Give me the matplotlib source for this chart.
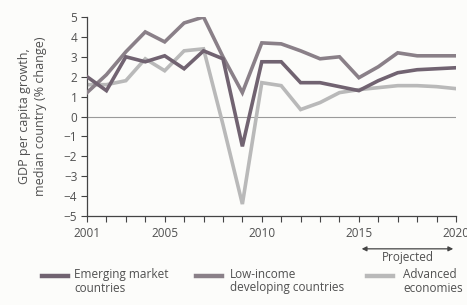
import matplotlib
matplotlib.use("Agg")
import matplotlib.pyplot as plt
import numpy as np

years = list(range(2001, 2021))
emerging = [2.0, 1.3, 3.0, 2.75, 3.05, 2.4, 3.3, 2.9, -1.5, 2.75, 2.75, 1.7, 1.7, 1.5, 1.3, 1.8, 2.2, 2.35, 2.4, 2.45]
low_income = [1.2, 2.1, 3.25, 4.25, 3.75, 4.7, 5.0, 3.0, 1.2, 3.7, 3.65, 3.3, 2.9, 3.0, 1.95, 2.5, 3.2, 3.05, 3.05, 3.05]
advanced = [1.6, 1.6, 1.8, 2.9, 2.3, 3.3, 3.4, -0.4, -4.4, 1.7, 1.55, 0.35, 0.7, 1.2, 1.35, 1.45, 1.55, 1.55, 1.5, 1.4]
labels = ["Emerging market\ncountries", "Low-income\ndeveloping countries", "Advanced\neconomies"]
xticks_major = [2001, 2005, 2010, 2015, 2020]
yticks = list(range(-5, 6))

plt.rcParams['font.family'] = ['Open Sans', 'DejaVu Sans']
txt = '#505050'
c_em = '#716371'
c_li = '#8a8088'
c_ad = '#b9b9b9'
fs = 8.5

fig = plt.figure(figsize=(4.67, 3.05), dpi=100)
fig.patch.set_facecolor('#fcfcfa')
ax = fig.add_axes([87/467, 1-216/305, (456-87)/467, (216-17)/305])
ax.set_facecolor('#fcfcfa')

ax.axhline(0, color='#9a9a9a', lw=0.8, zorder=1)
l3, = ax.plot(years, advanced, color=c_ad, lw=2.6, zorder=2, solid_joinstyle='miter')
l1, = ax.plot(years, emerging, color=c_em, lw=2.6, zorder=4, solid_joinstyle='miter')
l2, = ax.plot(years, low_income, color=c_li, lw=2.6, zorder=3, solid_joinstyle='miter')

ax.set_xlim(2001, 2020)
ax.set_ylim(-5, 5)
ax.set_yticks(yticks)
ax.set_yticklabels([("\u2212%d" % -v) if v < 0 else str(v) for v in yticks])
ax.set_xticks(xticks_major)
ax.set_xticks(years, minor=True)
for s in ['top', 'right']:
    ax.spines[s].set_visible(False)
for s in ['left', 'bottom']:
    ax.spines[s].set_color('#444444')
    ax.spines[s].set_linewidth(0.9)
ax.tick_params(axis='y', direction='out', length=4, width=0.8, color='#444444', labelcolor=txt, labelsize=fs, pad=3)
ax.tick_params(axis='x', which='both', direction='out', length=4, width=0.8, color='#444444', labelcolor=txt, labelsize=fs, pad=4)
ax.tick_params(axis='x', which='minor', length=4)

ax.set_ylabel("GDP per capita growth,\nmedian country (% change)", color=txt, fontsize=9, labelpad=12, linespacing=1.25)

# Projected arrow
ax.annotate('', xy=(2020, -6.65), xytext=(2015, -6.65), xycoords='data',
            arrowprops=dict(arrowstyle='<|-|>', color='#444444', lw=0.9, mutation_scale=7), annotation_clip=False)
ax.text(2017.5, -7.1, 'Projected', ha='center', va='center', color=txt, fontsize=fs, clip_on=False)

# Legend
items = [(42, 74, c_em, labels[0]), (196, 230, c_li, labels[1]), (367, 403, c_ad, labels[2])]
for x0, xt, col, lab in items:
    fig.add_artist(plt.Line2D([x0/467, (x0+26)/467], [1-276/305]*2, color=col, lw=3.2, transform=fig.transFigure))
    fig.text(xt/467, 1-268/305, lab, ha='left', va='top', color=txt, fontsize=fs, linespacing=1.05)

fig.savefig('out.png', dpi=100, facecolor=fig.get_facecolor())
